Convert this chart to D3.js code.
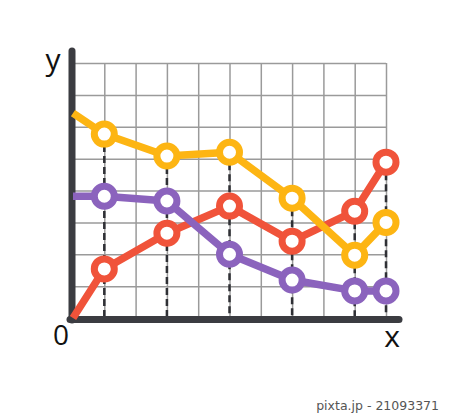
<!DOCTYPE html>
<html>
<head>
<meta charset="utf-8">
<script src="https://cdn.jsdelivr.net/npm/d3@7"></script>
<style>
  body { margin: 0; background: #fff; }
  svg { display: block; }
  .grid line { stroke: #9a9a9a; stroke-width: 1.5; }
  .grid .domain { display: none; }
</style>
</head>
<body>
<script>
  // x positions in grid columns, values in grid rows
  var xs = [0, 1, 3, 5, 7, 9, 10];
  var yellow = [6.43, 5.77, 5.08, 5.2, 3.76, 1.97, 3.0];
  var purple = [3.82, 3.82, 3.67, 2.0, 1.19, 0.85, 0.85];
  var red = [0, 1.54, 2.66, 3.51, 2.41, 3.35, 4.89];
  var seriesNames = ['red', 'purple', 'yellow'];
  var seriesValues = [red, purple, yellow];
  var colors = ['#f0533a', '#8b63bd', '#fdb513'];

  (function() {
    var width = 450, height = 414;
    var plotLeft = 73, plotRight = 386, plotTop = 63, plotBottom = 318;

    var x = d3.scaleLinear().domain([0, 10]).range([plotLeft, plotRight]);
    var y = d3.scaleLinear().domain([0, 8]).range([plotBottom, plotTop]);

    var svg = d3.select('body').append('svg')
      .attr('width', width)
      .attr('height', height);

    // grid
    svg.append('g')
      .attr('class', 'grid')
      .attr('transform', 'translate(0,' + plotBottom + ')')
      .call(d3.axisBottom(x).ticks(10).tickSize(-(plotBottom - plotTop)).tickFormat(''));

    svg.append('g')
      .attr('class', 'grid')
      .attr('transform', 'translate(' + plotLeft + ',0)')
      .call(d3.axisLeft(y).ticks(8).tickSize(-(plotRight - plotLeft)).tickFormat(''));

    // dashed drop lines from the top marker
    var dropIdx = d3.range(1, xs.length);
    svg.append('g').selectAll('line')
      .data(dropIdx)
      .enter().append('line')
      .attr('x1', function(i) { return x(xs[i]); })
      .attr('x2', function(i) { return x(xs[i]); })
      .attr('y1', function(i) { return y(d3.max(seriesValues, function(s) { return s[i]; })); })
      .attr('y2', plotBottom)
      .attr('stroke', '#2f3035')
      .attr('stroke-width', 2.5)
      .attr('stroke-dasharray', '7,4');

    // axes
    svg.append('line')
      .attr('x1', 72).attr('x2', 72)
      .attr('y1', 51).attr('y2', 320)
      .attr('stroke', '#3b3c41')
      .attr('stroke-width', 7)
      .attr('stroke-linecap', 'round');

    svg.append('line')
      .attr('x1', 70).attr('x2', 399)
      .attr('y1', 319.5).attr('y2', 319.5)
      .attr('stroke', '#3b3c41')
      .attr('stroke-width', 7)
      .attr('stroke-linecap', 'round');

    var line = d3.line()
      .x(function(d, i) { return x(xs[i]); })
      .y(function(d) { return y(d); });

    seriesValues.forEach(function(values, k) {
      var g = svg.append('g').attr('class', 'series-' + seriesNames[k]);

      g.append('path')
        .datum(values)
        .attr('d', line)
        .attr('fill', 'none')
        .attr('stroke', colors[k])
        .attr('stroke-width', 7.5)
        .attr('stroke-linejoin', 'round');

      g.selectAll('circle')
        .data(values.slice(1))
        .enter().append('circle')
        .attr('cx', function(d, i) { return x(xs[i + 1]); })
        .attr('cy', function(d) { return y(d); })
        .attr('r', 10)
        .attr('fill', '#fff')
        .attr('stroke', colors[k])
        .attr('stroke-width', 7);
    });

    // labels
    var font = '"Open Sans", sans-serif';
    svg.append('text')
      .attr('x', 53).attr('y', 70)
      .attr('text-anchor', 'middle')
      .style('font-family', font)
      .style('font-size', '30px')
      .attr('fill', '#111')
      .text('y');

    svg.append('text')
      .attr('x', 61).attr('y', 345)
      .attr('text-anchor', 'middle')
      .style('font-family', font)
      .style('font-size', '28px')
      .attr('fill', '#111')
      .text('0');

    svg.append('text')
      .attr('x', 392).attr('y', 347)
      .attr('text-anchor', 'middle')
      .style('font-family', font)
      .style('font-size', '30px')
      .attr('fill', '#111')
      .text('x');

    svg.append('text')
      .attr('x', 439).attr('y', 410)
      .attr('text-anchor', 'end')
      .style('font-family', '"DejaVu Sans", sans-serif')
      .style('font-size', '12.5px')
      .attr('fill', '#555')
      .text('pixta.jp - 21093371');
  })();
</script>
</body>
</html>
